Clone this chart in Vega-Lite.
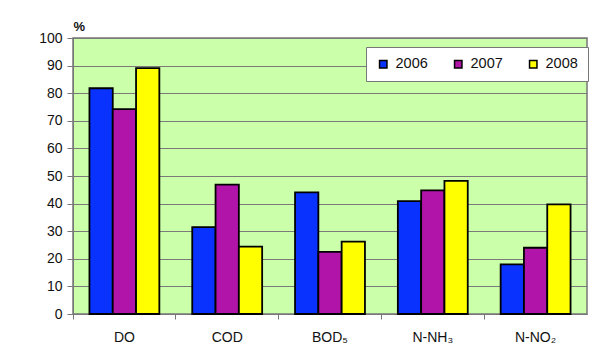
{
  "$schema": "https://vega.github.io/schema/vega-lite/v6.json",
  "autosize": "none",
  "width": 514,
  "height": 276,
  "padding": {"left": 73, "top": 38, "right": 25, "bottom": 46},
  "background": "white",
  "data": {
    "values": [
      {"param": "DO", "year": "2006", "value": 81.8},
      {"param": "DO", "year": "2007", "value": 74.2},
      {"param": "DO", "year": "2008", "value": 89.1},
      {"param": "COD", "year": "2006", "value": 31.5},
      {"param": "COD", "year": "2007", "value": 46.9},
      {"param": "COD", "year": "2008", "value": 24.4},
      {"param": "BOD₅", "year": "2006", "value": 44.1},
      {"param": "BOD₅", "year": "2007", "value": 22.5},
      {"param": "BOD₅", "year": "2008", "value": 26.2},
      {"param": "N-NH₃", "year": "2006", "value": 40.9},
      {"param": "N-NH₃", "year": "2007", "value": 44.8},
      {"param": "N-NH₃", "year": "2008", "value": 48.2},
      {"param": "N-NO₂", "year": "2006", "value": 18.0},
      {"param": "N-NO₂", "year": "2007", "value": 24.0},
      {"param": "N-NO₂", "year": "2008", "value": 39.7}
    ]
  },
  "mark": {"type": "bar", "stroke": "black", "strokeWidth": 1.8},
  "encoding": {
    "x": {
      "field": "param",
      "type": "nominal",
      "sort": null,
      "scale": {"paddingInner": 0, "paddingOuter": 0},
      "axis": {
        "title": null,
        "labelAngle": 0,
        "bandPosition": 0,
        "labelFont": "Liberation Sans",
        "labelFontSize": 14,
        "labelColor": "#111111",
        "labelPadding": 11,
        "tickColor": "#777777",
        "tickSize": 5,
        "domainColor": "#777777",
        "labelBound": false
      }
    },
    "xOffset": {
      "field": "year",
      "type": "nominal",
      "scale": {"paddingInner": 0, "paddingOuter": 0.706}
    },
    "y": {
      "field": "value",
      "type": "quantitative",
      "scale": {"domain": [0, 100], "nice": false},
      "axis": {
        "values": [0, 10, 20, 30, 40, 50, 60, 70, 80, 90, 100],
        "title": "%",
        "titleAngle": 0,
        "titleX": 0,
        "titleY": -12,
        "titleAlign": "left",
        "titleBaseline": "middle",
        "titleFont": "Liberation Sans",
        "titleFontSize": 13,
        "titleFontWeight": "bold",
        "titleColor": "#111111",
        "labelFont": "Liberation Sans",
        "labelFontSize": 14,
        "labelColor": "#111111",
        "labelPadding": 5,
        "tickColor": "#777777",
        "tickSize": 6,
        "domainColor": "#777777",
        "gridColor": "#7a7a7a",
        "gridOpacity": 1,
        "gridWidth": 1
      }
    },
    "color": {
      "field": "year",
      "type": "nominal",
      "scale": {"domain": ["2006", "2007", "2008"], "range": ["#0A32FF", "#B014A8", "#FFFF00"]},
      "legend": {
        "title": null,
        "orient": "none",
        "legendX": 293,
        "legendY": 9,
        "direction": "horizontal",
        "columns": 3,
        "columnPadding": 23,
        "padding": 10,
        "fillColor": "white",
        "strokeColor": "#777777",
        "symbolType": "square",
        "symbolSize": 55,
        "symbolStrokeColor": "black",
        "symbolStrokeWidth": 1.5,
        "labelFont": "Liberation Sans",
        "labelFontSize": 14.5,
        "labelColor": "#111111",
        "labelOffset": 5
      }
    }
  },
  "config": {
    "view": {"fill": "#CCFFAA", "stroke": "#777777", "strokeWidth": 1.5},
    "axis": {"grid": true},
    "axisX": {"grid": false}
  }
}
